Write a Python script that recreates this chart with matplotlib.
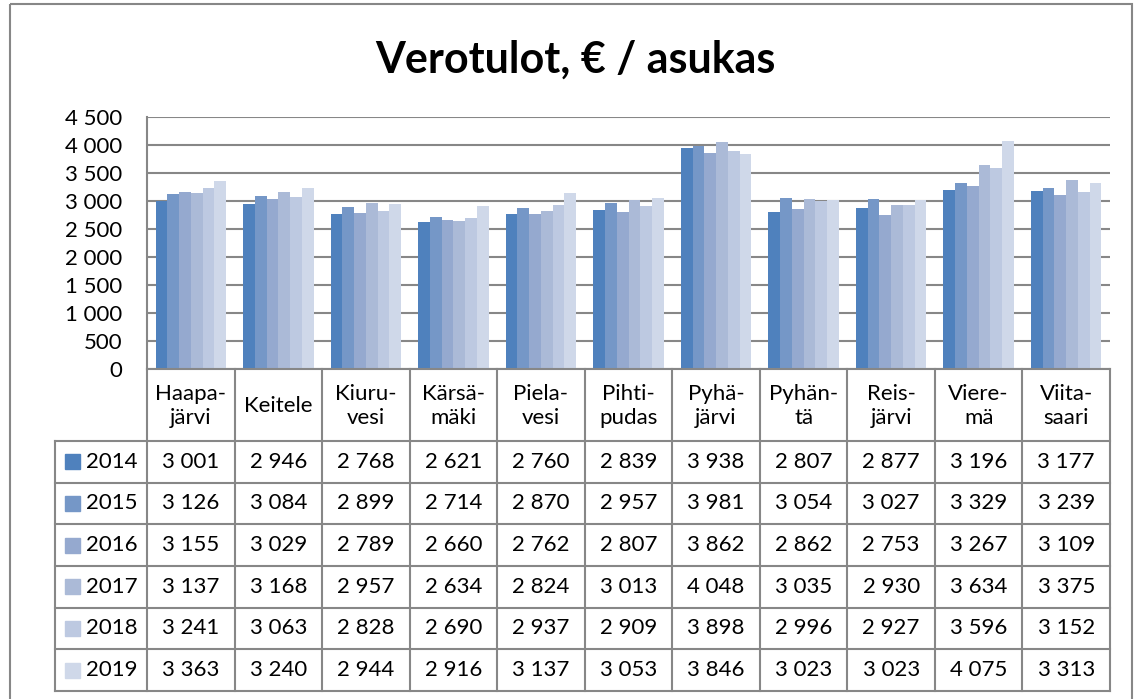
import numpy as np
import matplotlib.pyplot as plt
from matplotlib.patches import Rectangle

plt.rcParams["font.family"] = ["Lato", "DejaVu Sans"]

kunnat = ["Haapa-\njärvi", "Keitele", "Kiuru-\nvesi", "Kärsä-\nmäki", "Piela-\nvesi", "Pihti-\npudas",
          "Pyhä-\njärvi", "Pyhän-\ntä", "Reis-\njärvi", "Viere-\nmä", "Viita-\nsaari"]
vuodet = ["2014", "2015", "2016", "2017", "2018", "2019"]
v2014 = [3001, 2946, 2768, 2621, 2760, 2839, 3938, 2807, 2877, 3196, 3177]
v2015 = [3126, 3084, 2899, 2714, 2870, 2957, 3981, 3054, 3027, 3329, 3239]
v2016 = [3155, 3029, 2789, 2660, 2762, 2807, 3862, 2862, 2753, 3267, 3109]
v2017 = [3137, 3168, 2957, 2634, 2824, 3013, 4048, 3035, 2930, 3634, 3375]
v2018 = [3241, 3063, 2828, 2690, 2937, 2909, 3898, 2996, 2927, 3596, 3152]
v2019 = [3363, 3240, 2944, 2916, 3137, 3053, 3846, 3023, 3023, 4075, 3313]
sarjat = [v2014, v2015, v2016, v2017, v2018, v2019]
varit = ["#4f81bd", "#7597c7", "#95a9cf", "#abbad7", "#bdc9e1", "#cfd8e9"]
ticks = [0, 500, 1000, 1500, 2000, 2500, 3000, 3500, 4000, 4500]

W, H = 1141, 699
fig = plt.figure(figsize=(W / 100, H / 100), dpi=100)
grid = "#878787"
fs = 16


def fmt(v):
    return f"{v:,}".replace(",", " ")


def px(x0, y0, x1, y1):
    return [x0 / W, 1 - y1 / H, (x1 - x0) / W, (y1 - y0) / H]


# outer border
bg = fig.add_axes([0, 0, 1, 1])
bg.set_xlim(0, W)
bg.set_ylim(H, 0)
bg.axis("off")
bg.add_patch(Rectangle((10, 4), 1122, 720, fill=False, ec=grid, lw=1.5, clip_on=False))

fig.text(575 / W, 1 - 60 / H, "Verotulot, € / asukas", ha="center", va="center",
         fontsize=31, fontweight="bold")

# bar chart
ax = fig.add_axes(px(147, 117, 1110, 369))
n = len(kunnat)
x = np.arange(n) + 0.5
bw = 0.134
for i, (s, c) in enumerate(zip(sarjat, varit)):
    ax.bar(x + (i - 2.5) * bw, s, width=bw, color=c, zorder=3)
ax.set_xlim(0, n)
ax.set_ylim(0, 4500)
ax.set_yticks(ticks)
ax.set_yticklabels([fmt(t) for t in ticks], fontsize=fs)
ax.yaxis.grid(True, color=grid, lw=1.5)
ax.set_axisbelow(True)
ax.set_xticks([])
ax.tick_params(axis="y", length=0, pad=18)
for side in ["top", "right", "bottom"]:
    ax.spines[side].set_visible(False)
ax.spines["left"].set_color(grid)
ax.spines["left"].set_linewidth(1.5)

# data table
tb = fig.add_axes(px(55, 369, 1110, 691))
left = -(147 - 55) / 87.55
tb.set_xlim(left, n)
tb.set_ylim(691, 369)
tb.axis("off")
rows = np.linspace(441, 691, 7)
lk = dict(color=grid, lw=1.5, clip_on=False)
tb.plot([0, n], [369, 369], **lk)
for r in rows:
    tb.plot([left, n], [r, r], **lk)
for k in range(n + 1):
    tb.plot([k, k], [369, 691], **lk)
tb.plot([left, left], [441, 691], **lk)

for k, nimi in enumerate(kunnat):
    tb.text(k + 0.5, 406, nimi, ha="center", va="center", fontsize=fs, linespacing=1.25)

for i, (vuosi, s, c) in enumerate(zip(vuodet, sarjat, varit)):
    yc = (rows[i] + rows[i + 1]) / 2
    tb.add_patch(Rectangle((left + 0.11, yc - 7.5), 0.17, 15, color=c))
    tb.text(left + 0.35, yc, vuosi, ha="left", va="center", fontsize=fs)
    for k, v in enumerate(s):
        tb.text(k + 0.5, yc, fmt(v), ha="center", va="center", fontsize=fs)

fig.savefig("out.png", dpi=100)
